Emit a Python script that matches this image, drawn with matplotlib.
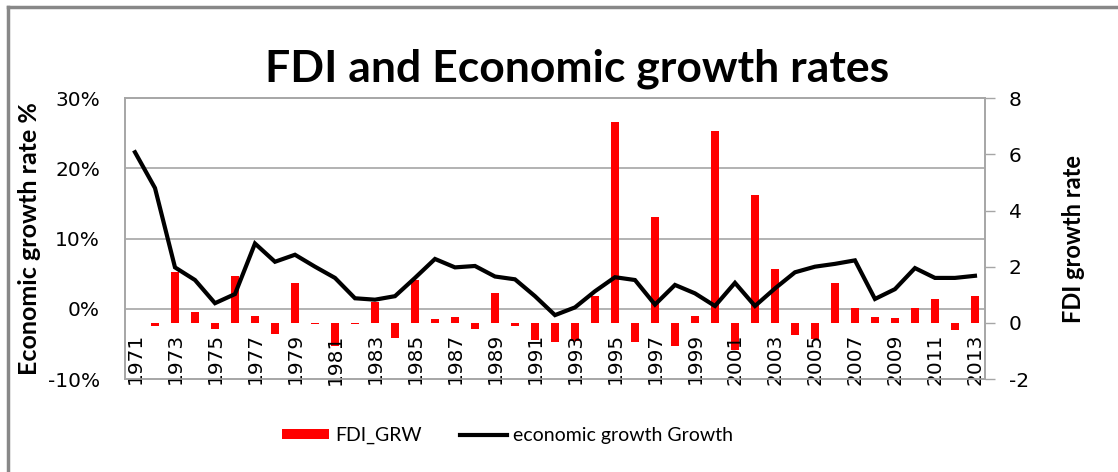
import matplotlib
matplotlib.use("Agg")
import matplotlib.pyplot as plt
import numpy as np
from matplotlib.lines import Line2D
from matplotlib.ticker import FuncFormatter

# tick labels in DejaVu, titles / legend in Lato
plt.rcParams['font.family'] = ['DejaVu Sans']
plt.rcParams['axes.unicode_minus'] = False
txt_font = ['Lato', 'DejaVu Sans']

# data
years = list(range(1971, 2014))
econ_growth = [22.3, 17.2, 5.9, 4.1, 0.8, 2.1, 9.3, 6.7, 7.7, 6.0,
               4.4, 1.5, 1.3, 1.8, 4.4, 7.1, 5.9, 6.1, 4.6, 4.2,
               1.8, -0.9, 0.2, 2.5, 4.5, 4.1, 0.6, 3.4, 2.2, 0.4,
               3.7, 0.4, 2.9, 5.2, 6.0, 6.4, 6.9, 1.4, 2.8, 5.8,
               4.4, 4.4, 4.7]
fdi_grw = [0.0, -0.13, 1.82, 0.39, -0.21, 1.68, 0.24, -0.38, 1.43, -0.04,
           -0.84, -0.04, 0.73, -0.53, 1.52, 0.15, 0.2, -0.23, 1.06, -0.1,
           -0.6, -0.69, -0.63, 0.97, 7.15, -0.69, 3.77, -0.84, 0.26, 6.84,
           -0.98, 4.54, 1.91, -0.45, -0.57, 1.41, 0.53, 0.22, 0.17, 0.53,
           0.86, -0.25, 0.96]
left_ticks = [-10, 0, 10, 20, 30]
right_ticks = [-2, 0, 2, 4, 6, 8]

x = np.arange(len(years))
grid_col = '#a6a6a6'

fig = plt.figure(figsize=(11.18, 4.72), dpi=100)
ax = fig.add_axes([0.1118, 0.197, 0.7692, 0.595])
ax2 = ax.twinx()

# bars (secondary axis) drawn below the line
ax2.bar(x, fdi_grw, width=0.4, color='#ff0000', label='FDI_GRW', zorder=2)
ax2.set_ylim(-2, 8)
ax2.set_yticks(right_ticks)
ax2.tick_params(axis='y', length=7, width=1, color=grid_col, pad=10, labelsize=14.5)

# gridlines follow the primary (percent) scale but sit behind the bars
lo, hi = -10, 30
grid_vals = [-2 + (t - lo) / (hi - lo) * 10 for t in left_ticks]
ax2.set_yticks(grid_vals, minor=True)
ax2.tick_params(axis='y', which='minor', length=0)
ax2.yaxis.grid(True, which='minor', color=grid_col, lw=1.2)
ax2.yaxis.grid(False, which='major')
ax2.set_axisbelow(True)

ax.set_zorder(ax2.get_zorder() + 1)
ax.patch.set_visible(False)
ax.plot(x, econ_growth, color='black', lw=3, label='economic growth Growth',
        solid_joinstyle='miter')
ax.set_ylim(lo, hi)
ax.set_yticks(left_ticks)
ax.yaxis.set_major_formatter(FuncFormatter(lambda v, p: '%d%%' % v))
ax.tick_params(axis='y', length=0, pad=18, labelsize=14.5)

ax.set_xlim(-0.5, len(years) - 0.5)
ax.set_xticks(x[::2])
ax.set_xticklabels([str(y) for y in years[::2]], rotation=90)
ax.tick_params(axis='x', length=0, pad=-33, labelsize=14.5)

for a in (ax, ax2):
    for s in a.spines.values():
        s.set_color(grid_col)
        s.set_linewidth(1.2)

ax.set_ylabel('Economic growth rate %', fontsize=18, fontweight='bold',
              labelpad=5, family=txt_font)
ax2.set_ylabel('FDI growth rate', fontsize=17, fontweight='bold',
               labelpad=24, family=txt_font)

fig.text(0.516, 0.855, 'FDI and Economic growth rates', fontsize=32,
         fontweight='bold', ha='center', va='center', family=txt_font)

h1, l1 = ax2.get_legend_handles_labels()
h2, l2 = ax.get_legend_handles_labels()
fig.legend(h1 + h2, l1 + l2, loc='center', bbox_to_anchor=(0.454, 0.077),
           ncol=2, frameon=False, prop={'family': txt_font, 'size': 14},
           handlelength=2.4, handleheight=0.45, handletextpad=0.3,
           columnspacing=2.0)

# outer frame of the original chart
fig.add_artist(Line2D([8 / 1118, 1], [1 - 7 / 472, 1 - 7 / 472],
                      color='#888888', lw=2.5))
fig.add_artist(Line2D([8 / 1118, 8 / 1118], [0, 1 - 7 / 472],
                      color='#888888', lw=2.5))

fig.savefig('out.png', dpi=100)
